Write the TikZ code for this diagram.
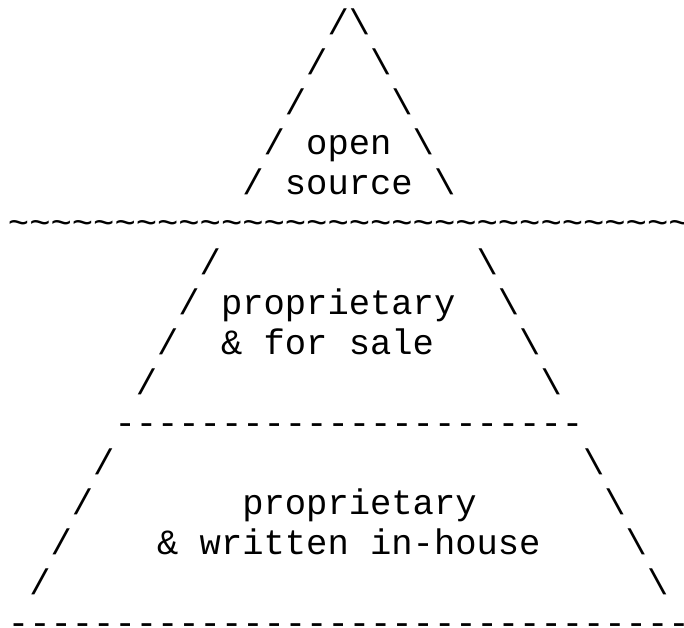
\documentclass[tikz,border=0pt]{standalone}
\usepackage{fontspec}
\newfontfamily\ascfont{Liberation Mono}
\begin{document}
\begin{tikzpicture}[x=21.3pt,y=-40pt,
  ch/.style={anchor=base west, inner sep=0pt, outer sep=0pt, text=black,
    font=\ascfont\fontsize{35.5pt}{40pt}\selectfont}]
\path[fill=white,use as bounding box] (0pt,0pt) rectangle (684pt,-627pt);
\begin{scope}[shift={(8pt,-34pt)}]
% apex
\node[ch] (a1) at (15,0) {/\textbackslash};
\node[ch] (a2l) at (14,1) {/};
\node[ch] (a2r) at (17,1) {\textbackslash};
\node[ch] (a3l) at (13,2) {/};
\node[ch] (a3r) at (18,2) {\textbackslash};
\node[ch] (a4l) at (12,3) {/};
\node[ch] (open) at (14,3) {open};
\node[ch] (a4r) at (19,3) {\textbackslash};
\node[ch] (a5l) at (11,4) {/};
\node[ch] (source) at (13,4) {source};
\node[ch] (a5r) at (20,4) {\textbackslash};
\foreach \i in {0,...,31} \node[ch] (t\i) at (\i,5) {\textasciitilde};
% middle
\node[ch] (m1l) at (9,6) {/};
\node[ch] (m1r) at (22,6) {\textbackslash};
\node[ch] (m2l) at (8,7) {/};
\node[ch] (prop1) at (10,7) {proprietary};
\node[ch] (m2r) at (23,7) {\textbackslash};
\node[ch] (m3l) at (7,8) {/};
\node[ch] (amp1) at (10,8) {\&};
\node[ch] (for) at (12,8) {for};
\node[ch] (sale) at (16,8) {sale};
\node[ch] (m3r) at (24,8) {\textbackslash};
\node[ch] (m4l) at (6,9) {/};
\node[ch] (m4r) at (25,9) {\textbackslash};
\foreach \i in {5,...,26} \node[ch] (d\i) at (\i,10) {-};
% bottom
\node[ch] (b1l) at (4,11) {/};
\node[ch] (b1r) at (27,11) {\textbackslash};
\node[ch] (b2l) at (3,12) {/};
\node[ch] (prop2) at (11,12) {proprietary};
\node[ch] (b2r) at (28,12) {\textbackslash};
\node[ch] (b3l) at (2,13) {/};
\node[ch] (written) at (7,13) {\& written in-house};
\node[ch] (b3r) at (29,13) {\textbackslash};
\node[ch] (b4l) at (1,14) {/};
\node[ch] (b4r) at (30,14) {\textbackslash};
\foreach \i in {0,...,31} \node[ch] (e\i) at (\i,15) {-};
\end{scope}
\end{tikzpicture}
\end{document}
